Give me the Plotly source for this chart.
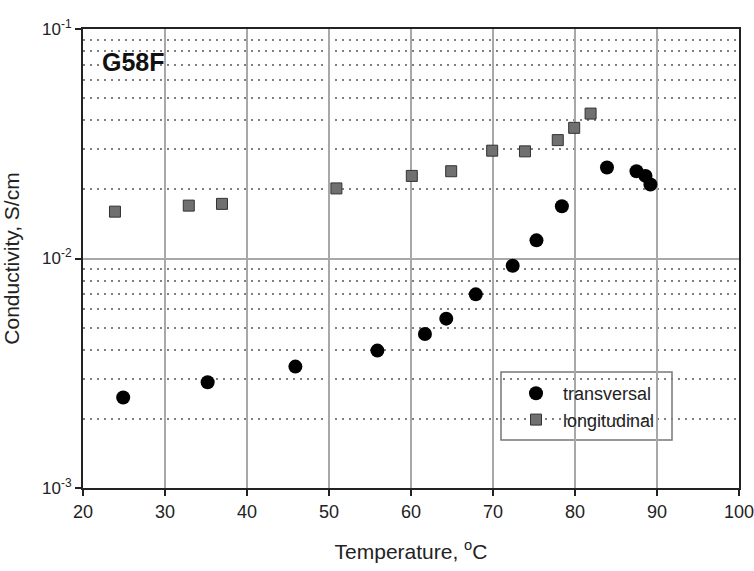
import plotly.graph_objects as go

# transversal (circles)
trans_T = [24.9, 35.2, 45.9, 55.9, 61.7, 64.3, 67.9, 72.4, 75.3, 78.4, 83.9, 87.5, 88.6, 89.2]
trans_S = [0.00248, 0.00289, 0.00338, 0.00397, 0.00469, 0.00547, 0.00698, 0.0093, 0.0120,
           0.0169, 0.0249, 0.0240, 0.0229, 0.0210]
# longitudinal (squares)
long_T = [23.9, 32.9, 36.95, 50.9, 60.1, 64.9, 69.9, 73.9, 77.9, 79.9, 81.9]
long_S = [0.0160, 0.0170, 0.0173, 0.0202, 0.0229, 0.0240, 0.0295, 0.0293, 0.0328, 0.0371, 0.0428]

x_ticks = [20, 30, 40, 50, 60, 70, 80, 90, 100]
y_ticks = [0.001, 0.01, 0.1]
y_ticktext = ["10<sup>-3</sup>", "10<sup>-2</sup>", "10<sup>-1</sup>"]

FONT = "Liberation Sans, Arial, sans-serif"

fig = go.Figure()
fig.add_trace(go.Scatter(
    x=trans_T, y=trans_S, mode="markers", name="transversal",
    marker=dict(symbol="circle", size=14, color="black", line=dict(width=0)),
))
fig.add_trace(go.Scatter(
    x=long_T, y=long_S, mode="markers", name="longitudinal",
    marker=dict(symbol="square", size=11, color="#707070", line=dict(width=1, color="#333333")),
))

fig.update_layout(
    width=754, height=571,
    margin=dict(l=83, r=15, t=29, b=83),
    paper_bgcolor="white", plot_bgcolor="white",
    font=dict(family=FONT, color="#222222", size=16),
    showlegend=True,
    legend=dict(
        x=(509 - 83) / 656, y=(488 - 375) / 459, xanchor="left", yanchor="top",
        bgcolor="rgba(0,0,0,0)", borderwidth=0,
        font=dict(family=FONT, size=18, color="#222222"),
        itemwidth=44,
        tracegroupgap=0,
    ),
    xaxis=dict(
        range=[20, 100], tickvals=x_ticks, ticktext=[str(v) for v in x_ticks],
        showline=True, mirror=True, linecolor="#222222", linewidth=2,
        ticks="outside", ticklen=6, tickwidth=2, tickcolor="#222222",
        showgrid=True, gridcolor="#a8a8a8", gridwidth=1.5,
        zeroline=False, automargin=False, ticklabeloverflow="allow",
        tickfont=dict(size=18),
        title=dict(text="Temperature, <sup>o</sup>C", font=dict(size=21), standoff=24),
    ),
    yaxis=dict(
        type="log", range=[-3, -1], tickvals=y_ticks, ticktext=y_ticktext,
        showline=True, mirror=True, linecolor="#222222", linewidth=2,
        ticks="outside", ticklen=6, tickwidth=2, tickcolor="#222222",
        showgrid=True, gridcolor="#a8a8a8", gridwidth=1.5,
        zeroline=False, automargin=False,
        tickfont=dict(size=17),
        minor=dict(dtick="D1", showgrid=True, griddash="2px,5px", gridcolor="#808080",
                   gridwidth=1.5, ticks=""),
        title=dict(text="Conductivity, S/cm", font=dict(size=21), standoff=24),
    ),
)

# legend frame
fig.add_shape(type="rect", xref="paper", yref="paper",
              x0=(501 - 83) / 656, x1=(672 - 83) / 656,
              y0=(488 - 440) / 459, y1=(488 - 372) / 459,
              line=dict(color="#777777", width=1.5), fillcolor="white", layer="below")

fig.add_annotation(text="<b>G58F</b>", xref="paper", yref="paper",
                   x=(100 - 83) / 656, y=(488 - 62) / 459, xanchor="left", yanchor="middle",
                   showarrow=False, font=dict(family=FONT, size=25, color="#111111"))

fig.write_html("out.html")
